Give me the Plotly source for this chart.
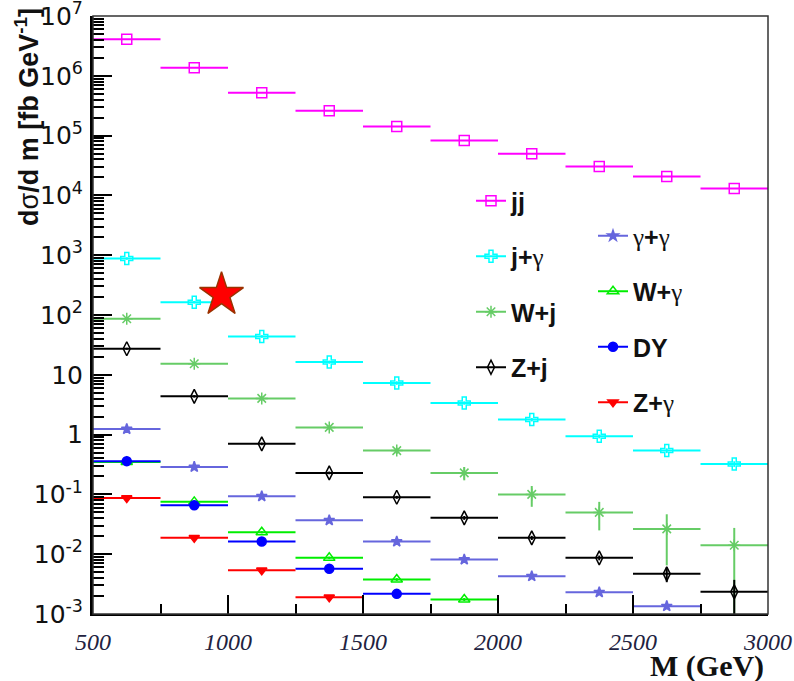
import plotly.graph_objects as go

# ---------------- data ----------------
bin_centers = [625, 875, 1125, 1375, 1625, 1875, 2125, 2375, 2625, 2875]
bin_halfwidth = [125] * 10

jj = [4.1e6, 1.37e6, 5.2e5, 2.6e5, 1.42e5, 8.3e4, 4.95e4, 3.03e4, 2.07e4, 1.30e4]
jj_err = [0.0] * 10

jgam = [880, 164, 43.8, 16.3, 7.3, 3.38, 1.78, 0.935, 0.54, 0.323]
jgam_err = [40, 8, 2.2, 1.0, 0.5, 0.22, 0.12, 0.07, 0.05, 0.035]

wj = [86.5, 15.3, 4.03, 1.32, 0.54, 0.229, 0.100, 0.050, 0.0265, 0.0141]
wj_err = [3.5, 0.8, 0.2, 0.1, 0.065, 0.057, 0.038, 0.025, 0.020, 0.0134]

zj = [27.3, 4.36, 0.70, 0.229, 0.0895, 0.0405, 0.01875, 0.00869, 0.0047, 0.00235]
zj_err = [1.0, 0.2, 0.035, 0.012, 0.005, 0.003, 0.0015, 0.0008, 0.0013, 0.00137]

gg_x = [625, 875, 1125, 1375, 1625, 1875, 2125, 2375, 2625]
gg = [1.24, 0.288, 0.093, 0.0369, 0.01626, 0.00814, 0.00428, 0.00231, 0.00135]
gg_err = [0.04, 0.01, 0.004, 0.0015, 0.0008, 0.0004, 0.0002, 0.00012, 0.00008]

wgam_x = [625, 875, 1125, 1375, 1625, 1875]
wgam = [0.349, 0.075, 0.0233, 0.00869, 0.00377, 0.00175]
wgam_err = [0.01, 0.003, 0.001, 0.0004, 0.0002, 0.0001]

dy_x = [625, 875, 1125, 1375, 1625]
dy = [0.36, 0.0658, 0.01626, 0.00569, 0.00217]
dy_err = [0.01, 0.002, 0.0006, 0.0002, 0.0001]

zgam_x = [625, 875, 1125, 1375]
zgam = [0.0873, 0.01875, 0.0054, 0.00191]
zgam_err = [0.003, 0.0008, 0.0002, 0.0001]

star_x = [976]
star_y = [218]

ytick_vals = [1e7, 1e6, 1e5, 1e4, 1e3, 1e2, 10, 1, 0.1, 0.01, 0.001]
ytick_text = ["10<sup>7</sup>", "10<sup>6</sup>", "10<sup>5</sup>", "10<sup>4</sup>",
              "10<sup>3</sup>", "10<sup>2</sup>", "10", "1", "10<sup>-1</sup>",
              "10<sup>-2</sup>", "10<sup>-3</sup>"]

G = '<span style="font-family:Liberation Serif">γ</span>'

series = [
    # name, x, y, err, color, symbol, size, legend
    ("<b>jj</b>", bin_centers, jj, jj_err, "#ff00ff", "square-open", 10, "legend"),
    ("<b>j+</b>" + G, bin_centers, jgam, jgam_err, "#00ffff", "cross-open", 10, "legend"),
    ("<b>W+j</b>", bin_centers, wj, wj_err, "#66cc66", "asterisk-open", 10, "legend"),
    ("<b>Z+j</b>", bin_centers, zj, zj_err, "#000000", "diamond-tall-open", 10, "legend"),
    (G + "<b>+</b>" + G, gg_x, gg, gg_err, "#6666dd", "star", 8, "legend2"),
    ("<b>W+</b>" + G, wgam_x, wgam, wgam_err, "#00ee00", "triangle-up-open", 10, "legend2"),
    ("<b>DY</b>", dy_x, dy, dy_err, "#0000ff", "circle", 9, "legend2"),
    ("<b>Z+</b>" + G, zgam_x, zgam, zgam_err, "#ff0000", "triangle-down", 9, "legend2"),
]

fig = go.Figure()

for i, (name, xs, ys, es, col, sym, sz, lg) in enumerate(series):
    fig.add_trace(go.Scatter(
        x=xs, y=ys, mode="markers", showlegend=False,
        marker=dict(symbol=sym, size=sz, color=col, line=dict(color=col, width=1.5)),
        error_x=dict(type="data", array=bin_halfwidth[:len(xs)], width=0, thickness=2, color=col),
        error_y=dict(type="data", array=es, width=0, thickness=2, color=col),
    ))
    # legend entry (line + marker sample)
    fig.add_trace(go.Scatter(
        x=[None], y=[None], mode="lines+markers", name=name, legend=lg,
        legendgroup="g%d" % i,
        marker=dict(symbol=sym, size=sz, color=col, line=dict(color=col, width=1.5)),
        line=dict(color=col, width=2),
    ))

fig.add_trace(go.Scatter(
    x=star_x, y=star_y, mode="markers", showlegend=False,
    marker=dict(symbol="star", size=33, color="#ff0000", line=dict(color="#993300", width=1.5)),
))

minor_vals = [m * 10.0 ** k for k in range(-3, 7) for m in range(2, 10)]

PW, PH = 675, 598
fig.update_layout(
    width=794, height=681,
    margin=dict(l=93, r=26, t=16, b=67, autoexpand=False),
    paper_bgcolor="white", plot_bgcolor="white",
    showlegend=True,
    legend=dict(x=(471 - 93) / PW, y=(614 - 178) / PH, xanchor="left", yanchor="top",
                bgcolor="rgba(0,0,0,0)", itemwidth=30, tracegroupgap=20,
                font=dict(family="Liberation Sans", size=25, color="#111111")),
    legend2=dict(x=(593 - 93) / PW, y=(614 - 213) / PH, xanchor="left", yanchor="top",
                 bgcolor="rgba(0,0,0,0)", itemwidth=30, tracegroupgap=20,
                 font=dict(family="Liberation Sans", size=25, color="#111111")),
    xaxis=dict(
        range=[500, 3000], showgrid=False, zeroline=False, automargin=False,
        showline=True, linecolor="black", linewidth=2,
        ticks="inside", ticklen=19, tickwidth=2, tickcolor="black",
        tick0=500, dtick=500,
        minor=dict(ticks="inside", ticklen=10, tickwidth=2, tickcolor="black", dtick=250, showgrid=False),
        tickfont=dict(family="Liberation Serif", size=24, color="#22223f", style="italic"),
        ticklabelstandoff=5, ticklabeloverflow="allow",
    ),
    yaxis=dict(
        type="log", range=[-3.0002, 7.0002], showgrid=False, zeroline=False, automargin=False,
        showline=True, linecolor="black", linewidth=3,
        ticks="inside", ticklen=19, tickwidth=2, tickcolor="black",
        tickmode="array", tickvals=ytick_vals, ticktext=ytick_text,
        minor=dict(ticks="inside", ticklen=11, tickwidth=2, tickcolor="black",
                   tickmode="array", tickvals=minor_vals, showgrid=False),
        tickfont=dict(family="DejaVu Sans", size=25, color="#111111"),
        ticklabelstandoff=2, ticklabeloverflow="allow",
    ),
    shapes=[dict(type="rect", xref="paper", yref="paper", x0=0, y0=0, x1=1, y1=1,
                 line=dict(color="#333333", width=1.5), fillcolor="rgba(0,0,0,0)", layer="above")],
    annotations=[
        dict(text="<b>d</b>σ<b>/d m [fb GeV<sup>-1</sup>]</b>", xref="paper", yref="paper",
             x=(27 - 93) / PW, y=(614 - 6) / PH, xanchor="center", yanchor="top",
             textangle=-90, showarrow=False,
             font=dict(family="Liberation Sans", size=27, color="#111111")),
        dict(text="<b>M (GeV)</b>", xref="paper", yref="paper",
             x=(766 - 93) / PW, y=(614 - 666) / PH, xanchor="right", yanchor="middle",
             showarrow=False,
             font=dict(family="Liberation Serif", size=30, color="#111111")),
    ],
)

fig.write_html("out.html", config={"displayModeBar": False},
               post_script="document.body.style.margin='0px';")
